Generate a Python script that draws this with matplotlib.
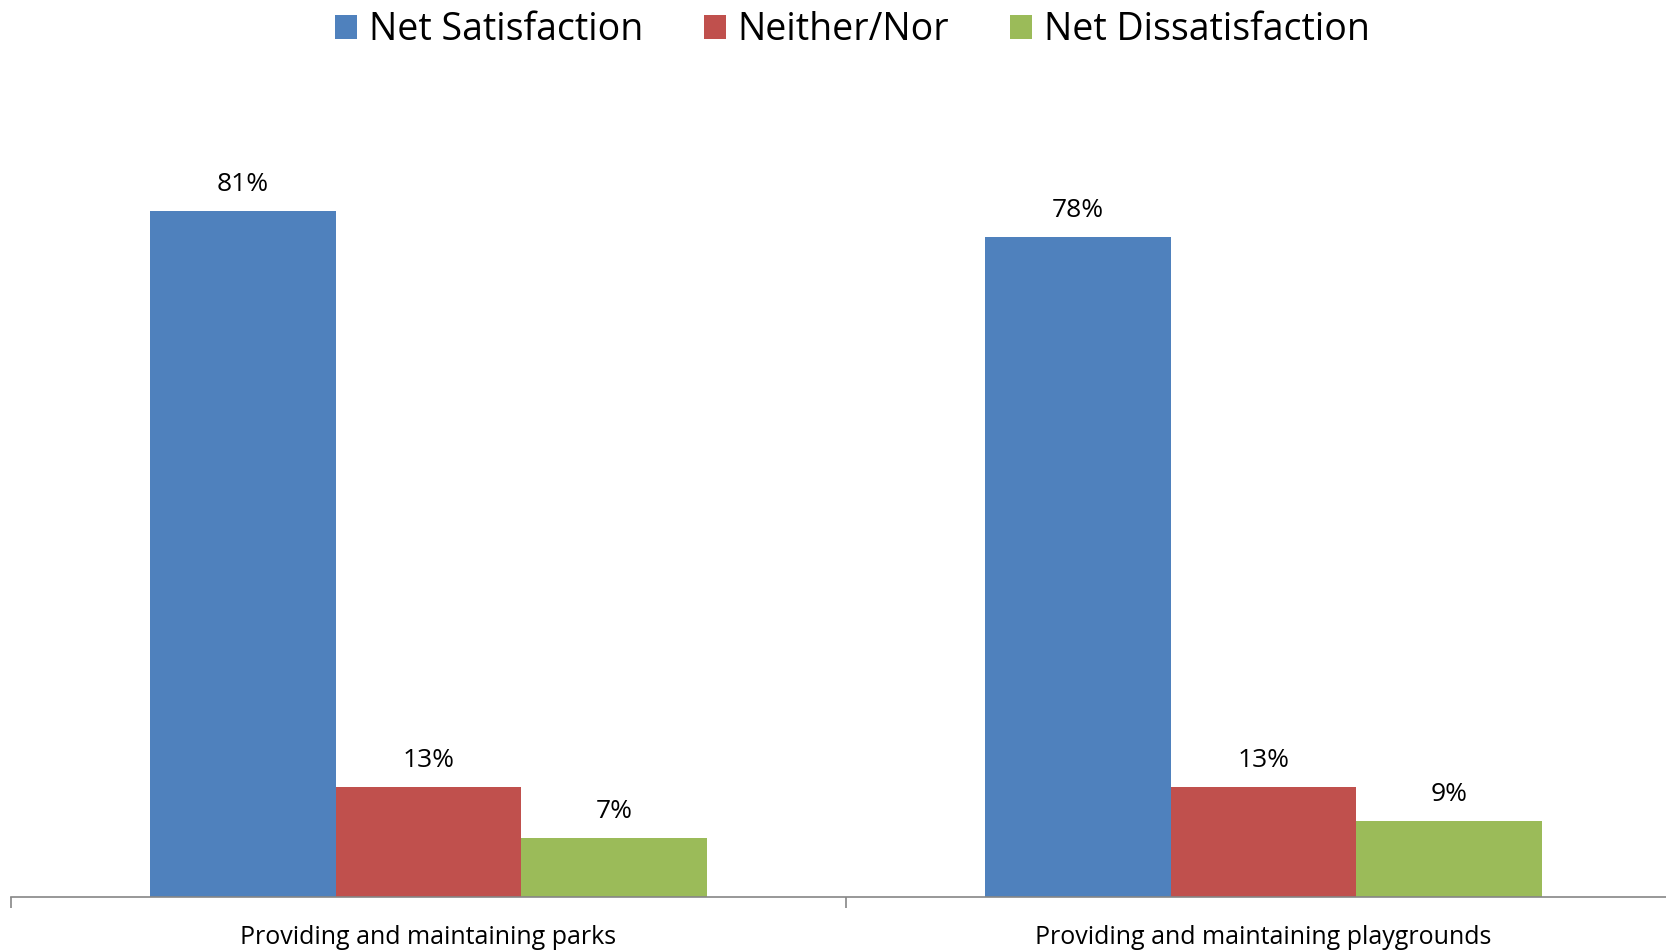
import matplotlib
matplotlib.use("Agg")
import matplotlib.pyplot as plt
import numpy as np

categories = ["Providing and maintaining parks", "Providing and maintaining playgrounds"]
series_names = ["Net Satisfaction", "Neither/Nor", "Net Dissatisfaction"]
net_satisfaction = [81, 78]
neither_nor = [13, 13]
net_dissatisfaction = [7, 9]
colors = ["#4F81BD", "#C0504D", "#9BBB59"]

plt.rcParams['font.family'] = ['Open Sans', 'DejaVu Sans']

W, H = 1666, 952
fig = plt.figure(figsize=(W / 100, H / 100), dpi=100)
# axes spans beyond the right figure edge (as in reference crop)
ax_left, ax_right = 11, 1681
ax_bottom, ax_top = 897, 135
ax = fig.add_axes([ax_left / W, (H - ax_bottom) / H, (ax_right - ax_left) / W, (ax_bottom - ax_top) / H])

x = np.arange(len(categories))
bw = 0.222
all_series = [net_satisfaction, neither_nor, net_dissatisfaction]
handles = []
for i, (vals, name, c) in enumerate(zip(all_series, series_names, colors)):
    pos = x + (i - 1) * bw
    b = ax.bar(pos, vals, width=bw, color=c, label=name, edgecolor='none')
    handles.append(b)
    for p, v in zip(pos, vals):
        ax.annotate(f"{v}%", (p, v), xytext=(0, 19), textcoords='offset points',
                    ha='center', va='center', fontsize=19, color='black')

ax.set_xlim(-0.5, 1.5)
ax.set_ylim(0, 90)
ax.set_yticks([])
for s in ['top', 'right', 'left']:
    ax.spines[s].set_visible(False)
ax.spines['bottom'].set_color('#868686')
ax.spines['bottom'].set_linewidth(1.2)
ax.set_xticks(x)
ax.set_xticklabels(categories, fontsize=18)
ax.tick_params(axis='x', which='major', length=0, pad=20)
ax.set_xticks([-0.5, 0.5, 1.5], minor=True)
ax.tick_params(axis='x', which='minor', length=8, color='#868686', width=1.2)

fig.legend(handles=handles, labels=series_names, loc='center', bbox_to_anchor=(0.5115, 1 - 30 / H),
           ncol=3, frameon=False, fontsize=27, handlelength=0.6, handleheight=0.6,
           handletextpad=0.3, columnspacing=1.62)

fig.savefig("out.png", dpi=100)
